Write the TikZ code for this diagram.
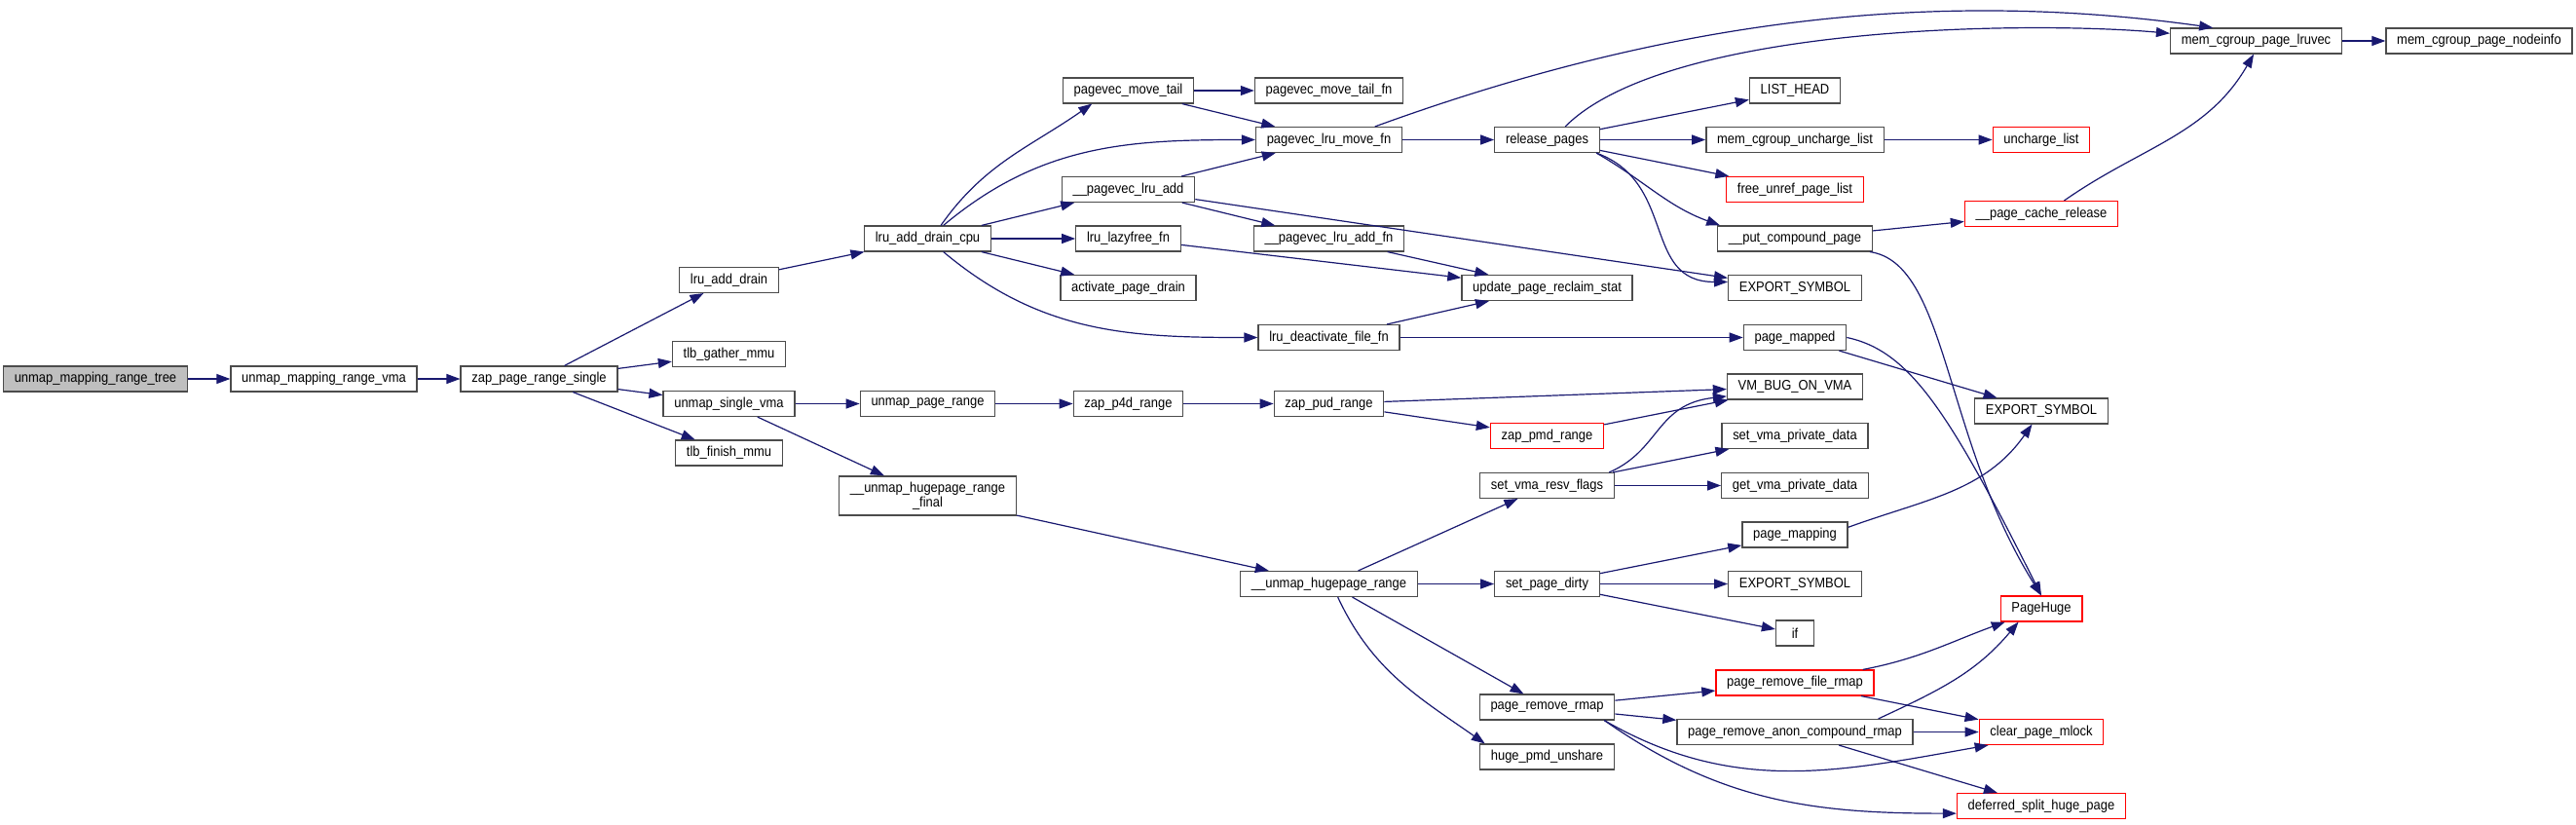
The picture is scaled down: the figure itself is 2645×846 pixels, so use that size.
\documentclass[tikz,border=0pt]{standalone}
\usepackage{fontspec}
\setmainfont{Liberation Sans}[FakeStretch=0.9]
\usepackage{xcolor}
\usetikzlibrary{arrows.meta}
\definecolor{edgeblue}{HTML}{191970}

\tikzset{
  fn/.style={draw=black!70, line width=0.65pt, fill=white, rectangle,
    minimum height=12.9pt, inner xsep=5.6pt, inner ysep=0pt,
    font=\fontsize{7.2}{7.35}\selectfont},
  fnred/.style={fn, draw=red},
  fnroot/.style={fn, fill=black!25},
  call/.style={draw=edgeblue, line width=0.6pt, -{Triangle[length=7pt,width=5pt]}}
}

\begin{document}
\begin{tikzpicture}[x=0.5pt, y=-0.5pt]
\useasboundingbox (0,0) rectangle (2645,846);

% first columns
\node[fnroot] (tree) at (98,389) {unmap\_mapping\_range\_tree};
\node[fn] (vma) at (332.5,389) {unmap\_mapping\_range\_vma};
\node[fn] (zprs) at (553.5,389) {zap\_page\_range\_single};
\node[fn] (lad) at (748.5,287.5) {lru\_add\_drain};
\node[fn] (tgm) at (748.5,363.5) {tlb\_gather\_mmu};
\node[fn] (usv) at (748.5,414.5) {unmap\_single\_vma};
\node[fn] (tfm) at (748.5,465) {tlb\_finish\_mmu};
\node[fn] (ladc) at (952.5,245) {lru\_add\_drain\_cpu};
\node[fn] (upr) at (952.5,414.5) {unmap\_page\_range};
\node[fn, minimum height=20pt, align=center] (uhrf) at (952.5,509) {\_\_unmap\_hugepage\_range\\\_final};

% pagevec column
\node[fn] (pmt) at (1158.5,93) {pagevec\_move\_tail};
\node[fn] (plra) at (1158.5,194.5) {\_\_pagevec\_lru\_add};
\node[fn] (llf) at (1158.5,245) {lru\_lazyfree\_fn};
\node[fn] (apd) at (1158.5,295.5) {activate\_page\_drain};
\node[fn] (zp4d) at (1158.5,414.5) {zap\_p4d\_range};
\node[fn] (pmtfn) at (1364.5,93) {pagevec\_move\_tail\_fn};
\node[fn] (plmf) at (1364.5,143.5) {pagevec\_lru\_move\_fn};
\node[fn] (plrafn) at (1364.5,245) {\_\_pagevec\_lru\_add\_fn};
\node[fn] (ldff) at (1364.5,346.5) {lru\_deactivate\_file\_fn};
\node[fn] (zpud) at (1364.5,414.5) {zap\_pud\_range};
\node[fn] (uhr) at (1364.5,599.5) {\_\_unmap\_hugepage\_range};

% middle column
\node[fn] (rp) at (1588.5,143.5) {release\_pages};
\node[fn] (upre) at (1588.5,295.5) {update\_page\_reclaim\_stat};
\node[fnred] (zpmd) at (1588.5,447.5) {zap\_pmd\_range};
\node[fn] (svrf) at (1588.5,498.5) {set\_vma\_resv\_flags};
\node[fn] (spd) at (1588.5,599.5) {set\_page\_dirty};
\node[fn] (prr) at (1588.5,726) {page\_remove\_rmap};
\node[fn] (hpu) at (1588.5,777) {huge\_pmd\_unshare};

% leaves
\node[fn] (lh) at (1843,93) {LIST\_HEAD};
\node[fn] (mcul) at (1843,143.5) {mem\_cgroup\_uncharge\_list};
\node[fnred] (furl) at (1843,194.5) {free\_unref\_page\_list};
\node[fn] (pcp) at (1843,245) {\_\_put\_compound\_page};
\node[fn] (es1) at (1843,295.5) {EXPORT\_SYMBOL};
\node[fn] (pmd) at (1843,346.5) {page\_mapped};
\node[fn] (vbov) at (1843,397) {VM\_BUG\_ON\_VMA};
\node[fn] (svpd) at (1843,447.5) {set\_vma\_private\_data};
\node[fn] (gvpd) at (1843,498.5) {get\_vma\_private\_data};
\node[fn] (pmap) at (1843,549) {page\_mapping};
\node[fn] (es2) at (1843,599.5) {EXPORT\_SYMBOL};
\node[fn, minimum width=19.5pt] (iff) at (1843,650) {if};
\node[fnred] (prfr) at (1843,701) {page\_remove\_file\_rmap};
\node[fn] (prac) at (1843,751.5) {page\_remove\_anon\_compound\_rmap};

\node[fn] (lruvec) at (2316.5,42) {mem\_cgroup\_page\_lruvec};
\node[fn] (nodeinfo) at (2545.5,42) {mem\_cgroup\_page\_nodeinfo};
\node[fnred] (ucl) at (2096,143.5) {uncharge\_list};
\node[fnred] (pcr) at (2096,219.5) {\_\_page\_cache\_release};
\node[fn] (es3) at (2096,422) {EXPORT\_SYMBOL};
\node[fnred] (ph) at (2096,625) {PageHuge};
\node[fnred] (cpm) at (2096,751.5) {clear\_page\_mlock};
\node[fnred] (dshp) at (2096,827.5) {deferred\_split\_huge\_page};

% calls
\draw[call] (tree) -- (vma);
\draw[call] (vma) -- (zprs);
\draw[call] (zprs) -- (lad);
\draw[call] (zprs) -- (tgm);
\draw[call] (zprs) -- (usv);
\draw[call] (zprs) -- (tfm);
\draw[call] (lad) -- (ladc);
\draw[call] (ladc.45) to[out=55,in=-145] (pmt.-160);
\draw[call] (ladc.40) to[out=40,in=180] (plmf.west);
\draw[call] (ladc) -- (plra);
\draw[call] (ladc) -- (llf);
\draw[call] (ladc) -- (apd);
\draw[call] (ladc.-40) to[out=-40,in=180] (ldff.west);
\draw[call] (pmt) -- (pmtfn);
\draw[call] (pmt) -- (plmf);
\draw[call] (plra) -- (plmf);
\draw[call] (plra) -- (plrafn);
\draw[call] (plra) -- (es1);
\draw[call] (llf) -- (upre);
\draw[call] (plrafn) -- (upre);
\draw[call] (ldff) -- (upre);
\draw[call] (ldff) -- (pmd);
\draw[call] (plmf) -- (rp);
\draw[call] (plmf.16) to[out=20,in=172,looseness=0.9] (lruvec.163);
\draw[call] (rp.36) to[out=45,in=175,looseness=0.6] (lruvec.175);
\draw[call] (rp) -- (lh);
\draw[call] (rp) -- (mcul);
\draw[call] (rp) -- (furl);
\draw[call] (rp.-15) to[out=-30,in=160] (pcp.170);
\draw[call] (rp.-15) to[out=-20,in=180,looseness=1.2] (es1.175);
\draw[call] (mcul) -- (ucl);
\draw[call] (pcp) -- (pcr);
\draw[call] (pcp.-10) .. controls (2000,270) and (1995,450) .. (ph.north);
\draw[call] (pcr.30) to[out=35,in=-120] (lruvec.-100);
\draw[call] (lruvec) -- (nodeinfo);
\draw[call] (pmd) -- (es3);
\draw[call] (pmd.east) .. controls (1960,360) and (2000,420) .. (ph.north);
\draw[call] (usv) -- (upr);
\draw[call] (usv) -- (uhrf);
\draw[call] (upr) -- (zp4d);
\draw[call] (zp4d) -- (zpud);
\draw[call] (zpud) -- (vbov);
\draw[call] (zpud) -- (zpmd);
\draw[call] (zpmd) -- (vbov);
\draw[call] (uhrf) -- (uhr);
\draw[call] (uhr) -- (svrf);
\draw[call] (uhr) -- (spd);
\draw[call] (uhr) -- (prr);
\draw[call] (uhr.-56) to[out=-65,in=145] (hpu.168);
\draw[call] (svrf.12) .. controls (1705,462) and (1700,415) .. (vbov.188);
\draw[call] (svrf) -- (svpd);
\draw[call] (svrf) -- (gvpd);
\draw[call] (spd) -- (pmap);
\draw[call] (spd) -- (es2);
\draw[call] (spd) -- (iff);
\draw[call] (pmap.8) to[out=20,in=-125] (es3.-125);
\draw[call] (prr) -- (prfr);
\draw[call] (prr) -- (prac);
\draw[call] (prr.-13) to[out=-30,in=-170] (cpm.-166);
\draw[call] (prr.-13) to[out=-35,in=180] (dshp.185);
\draw[call] (prfr.11) to[out=11,in=-160] (ph.-160);
\draw[call] (prfr) -- (cpm);
\draw[call] (prac.9) to[out=25,in=-130] (ph.-150);
\draw[call] (prac) -- (cpm);
\draw[call] (prac) -- (dshp);
\end{tikzpicture}
\end{document}
